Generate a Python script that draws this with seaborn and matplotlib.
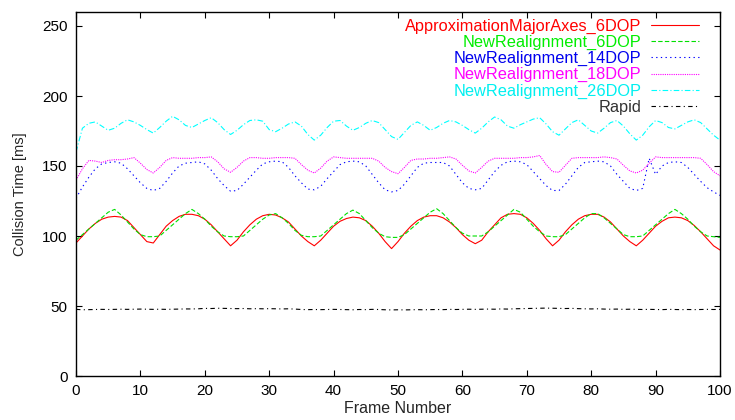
import numpy as np
import pandas as pd
import matplotlib
matplotlib.use('Agg')
import matplotlib.pyplot as plt
import seaborn as sns

frames = list(range(0, 101))

approx_6dop = [95, 100, 105, 109, 112, 113.5, 114, 113.5, 111, 106,
               101, 96, 95, 101, 107, 111, 114, 115.5, 115.5, 114.5,
               112, 108, 103, 98, 93, 97, 103, 108, 112, 114.5,
               115.5, 115, 113, 110, 105, 100, 96, 93, 97, 102,
               107, 110.5, 112.5, 113.5, 113, 111, 107, 102, 96, 91,
               96, 102, 107, 111, 113.5, 114.5, 114.5, 113, 110, 106,
               101, 97, 94.5, 97, 103, 108, 113, 115.5, 116, 115.5,
               113, 109, 104, 98, 93, 97, 103, 108, 112, 114.5,
               115.5, 115.5, 113.5, 110, 105, 100, 96, 93, 97, 102,
               107, 110.5, 113, 113.5, 113, 111, 107.5, 103, 98, 93,
               90]

realign_6dop = [97, 101, 105, 109, 113, 117, 119, 115, 110, 105,
                101, 99.5, 99.5, 100, 104, 108, 112, 116, 119, 116,
                112, 107, 103, 100, 99.5, 99.5, 100, 104, 108, 112,
                115, 116, 113, 109, 104, 100.5, 99.5, 99.5, 100, 104,
                108, 112, 116, 118.5, 116, 111, 106, 102, 99.5, 99,
                99, 101, 105, 109, 113, 117, 119.5, 116, 111, 106,
                102, 100, 100, 100, 103, 107, 111, 115, 119, 117,
                112, 107, 103, 100, 99.5, 99.5, 101, 105, 109, 113,
                116, 116, 113, 109, 105, 101, 99.5, 99.5, 100, 104,
                108, 112, 116, 119, 116, 112, 107, 103, 100, 99.5,
                99]

realign_14dop = [127, 135, 142, 148, 151.5, 152.5, 153, 152, 148, 143,
                 138, 134, 132.5, 134, 139, 145, 150, 152, 152.5, 153,
                 151.5, 147, 141, 136, 132, 132.5, 137, 142, 147, 151.5,
                 153, 153.5, 153, 149, 143, 138, 133.5, 133, 135.5, 141,
                 146, 151, 153, 153.5, 153, 150, 144, 138, 133, 131.5,
                 132.5, 137, 143, 149, 152, 152.5, 152.5, 152.5, 150, 144,
                 138, 134, 133, 134, 140, 146, 150.5, 153, 153.5, 153,
                 151, 146, 141, 136, 132.5, 132.5, 137, 143, 149, 152.5,
                 153, 153.5, 153, 150, 144, 139, 134, 132.5, 134, 155.5,
                 144, 150, 152.5, 153, 152.5, 149, 144, 139, 134.5, 131.5,
                 129]

realign_18dop = [140, 148, 154, 153.5, 152.5, 154, 154.5, 154.5, 155, 156,
                 152, 147.5, 145, 149, 154, 156, 155.5, 155.5, 155.5, 156,
                 156, 156.5, 153, 148, 145.5, 149, 153.5, 156, 156, 155.5,
                 155.5, 156, 156, 156, 155.5, 151, 147, 145, 148.5, 153.5,
                 156.5, 156, 155.5, 155.5, 155.5, 155.5, 155.5, 153.5, 149, 146,
                 144.5, 149, 154, 155, 155, 155.5, 155.5, 156, 156.5, 155,
                 150.5, 146.5, 145, 149, 153.5, 155.5, 155.5, 155.5, 155.5, 156,
                 156, 156.5, 157.5, 151, 146, 145.5, 150.5, 155.5, 156, 156,
                 156, 156, 156.5, 156, 155, 150.5, 146.5, 145, 147, 152,
                 156.5, 156, 156, 156, 156, 156, 156, 155.5, 151, 146,
                 143]

realign_26dop = [160, 177, 180.5, 181.5, 178.5, 175.5, 177, 180.5, 183, 181.5,
                 179, 176, 173.5, 177.5, 182, 185.5, 183, 179, 177.5, 180,
                 182.5, 184.5, 181, 176, 172.5, 175.5, 179.5, 182.5, 183, 182,
                 176, 174.5, 177, 180, 181.5, 178.5, 172.5, 168.5, 172, 177.5,
                 182, 182.5, 178.5, 175.5, 177.5, 180.5, 182.5, 181, 176, 171,
                 169, 174, 179, 181.5, 179, 175.5, 177.5, 180.5, 182.5, 181.5,
                 179, 176, 173.5, 177, 181.5, 185, 183, 178.5, 177, 179.5,
                 181.5, 183.5, 184.5, 180, 174.5, 172, 176.5, 181, 183, 179,
                 175, 173.5, 177, 181, 182.5, 178.5, 173, 168.5, 172, 178,
                 182.5, 181, 177.5, 176.5, 179, 181.5, 183, 181, 176.5, 172,
                 168.5]

rapid = [47.6, 47.3, 47.4, 47.5, 47.6, 47.5, 47.6, 47.7, 47.6, 47.7,
         47.8, 47.7, 47.6, 47.7, 47.6, 47.7, 47.8, 47.9, 47.9, 48.0,
         48.3, 48.2, 48.4, 48.3, 48.2, 48.1, 48.2, 48.0, 48.1, 48.0,
         48.1, 48.0, 47.9, 48.0, 47.8, 47.5, 47.4, 47.5, 47.4, 47.5,
         47.6, 47.5, 47.4, 47.3, 47.5, 47.4, 47.6, 47.5, 47.3, 47.2,
         47.3, 47.2, 47.3, 47.4, 47.3, 47.4, 47.5, 47.4, 47.6, 47.5,
         47.6, 47.7, 47.6, 47.7, 47.8, 47.7, 47.9, 47.8, 48.0, 48.1,
         48.2, 48.3, 48.4, 48.5, 48.4, 48.3, 48.2, 48.3, 48.1, 48.0,
         47.9, 48.0, 47.8, 47.7, 47.8, 47.6, 47.7, 47.6, 47.5, 47.6,
         47.5, 47.4, 47.6, 47.5, 47.4, 47.5, 47.4, 47.5, 47.6, 47.5,
         47.6]

names = ['ApproximationMajorAxes_6DOP', 'NewRealignment_6DOP', 'NewRealignment_14DOP',
         'NewRealignment_18DOP', 'NewRealignment_26DOP', 'Rapid']
series = [approx_6dop, realign_6dop, realign_14dop, realign_18dop, realign_26dop, rapid]
colors = ['#ff0000', '#00e000', '#0000ff', '#ff00ff', '#00ffff', '#000000']
text_colors = ['#ff0000', '#00ee00', '#0000ee', '#ff00ff', '#00f0f0', '#333333']
styles = ['-', (0, (4, 2)), (0, (1.2, 3)), (0, (1, 1)), (0, (5, 2, 1, 2)), (0, (4, 3, 1, 3))]

sns.set_style('ticks')
plt.rcParams['font.family'] = ['Liberation Sans', 'DejaVu Sans']

fig = plt.figure(figsize=(7.35, 4.2), dpi=100)
ax = fig.add_axes([76 / 735, 44 / 420, 644 / 735, 364 / 420])

for name, vals, c, ls in zip(names, series, colors, styles):
    sns.lineplot(x=frames, y=vals, color=c, linestyle=ls, linewidth=0.8, label=name, ax=ax)

ax.set_xlim(0, 100)
ax.set_ylim(0, 260)
ax.set_xticks(range(0, 101, 10))
ax.set_yticks(range(0, 251, 50))
ax.tick_params(direction='in', top=True, right=True, length=4.5, width=0.8,
               labelsize=11, colors='black', pad=6)
for s in ax.spines.values():
    s.set_visible(True)
    s.set_linewidth(1.0)
    s.set_color('black')

ax.set_xlabel('Frame Number', fontsize=11.5, labelpad=2)
ax.set_ylabel('Collision Time [ms]', fontsize=10.5, labelpad=11)

leg = ax.legend(loc='upper right', frameon=False, markerfirst=False, fontsize=11.8,
                handlelength=2.9, handletextpad=0.6, labelspacing=0.07,
                borderaxespad=0.3, bbox_to_anchor=(0.985, 1.014))
for t, c in zip(leg.get_texts(), text_colors):
    t.set_color(c)

fig.savefig('out.png', dpi=100)
